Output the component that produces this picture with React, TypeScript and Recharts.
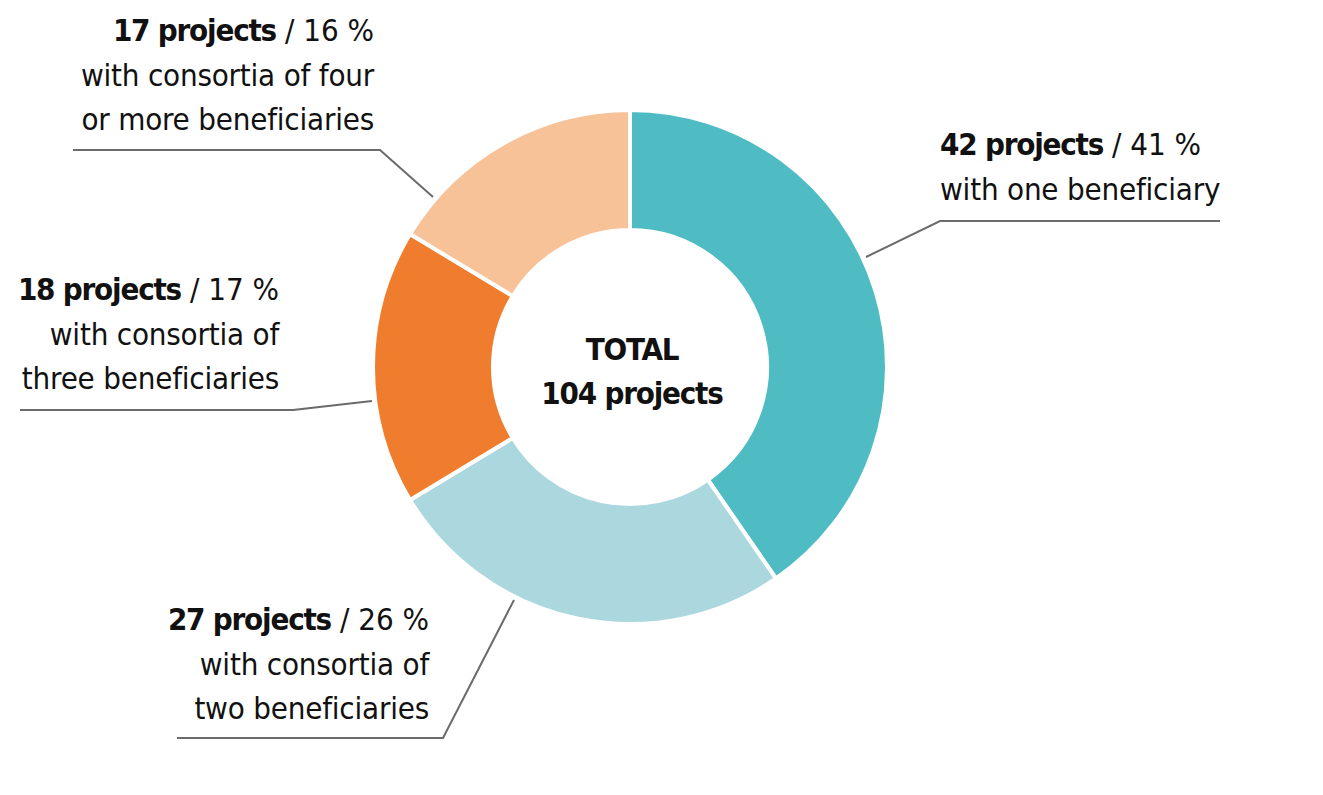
import { PieChart, Pie, Cell, Customized } from 'recharts'

const categories = ['with one beneficiary', 'with consortia of two beneficiaries', 'with consortia of three beneficiaries', 'with consortia of four or more beneficiaries']
const projects = [42, 27, 18, 17]
const shares = [41, 26, 17, 16]
const colors = ['#4fbcc4', '#abd7de', '#f07d2d', '#f8c298']
// label text split in lines, as in the original layout
const labelLines = [
  ['with one beneficiary'],
  ['with consortia of', 'two beneficiaries'],
  ['with consortia of', 'three beneficiaries'],
  ['with consortia of four', 'or more beneficiaries'],
]
const totalLabel = ['TOTAL', '104 projects']

const FONT = "'Liberation Sans Narrow', 'DejaVu Sans Condensed', 'Roboto Condensed', sans-serif"

// leader-line geometry relative to the pie centre: start, elbow, end, text anchor
const leaders = [
  { p: [[236, -110], [310, -146], [590, -146]], tx: 310, ty: -212, anchor: 'start' },
  { p: [[-116, 233], [-187, 371], [-453, 371]], tx: -201, ty: 263, anchor: 'end' },
  { p: [[-258, 34], [-337, 43], [-610, 43]], tx: -351, ty: -67, anchor: 'end' },
  { p: [[-197, -170], [-250, -217], [-557, -217]], tx: -256, ty: -326, anchor: 'end' },
]

const data = categories.map((c, i) => ({ name: c, value: projects[i], share: shares[i] }))

function renderLabel(props: any) {
  const { cx, cy, index } = props
  const l = leaders[index]
  const pts = l.p.map(([x, y]) => `${cx + x},${cy + y}`).join(' ')
  const lines = labelLines[index]
  return (
    <g key={`lbl-${index}`}>
      <polyline points={pts} fill="none" stroke="#6b6b6b" strokeWidth={2} />
      <text x={cx + l.tx} y={cy + l.ty} textAnchor={l.anchor} fontFamily={FONT} fontSize={31} fill="#111">
        <tspan fontWeight="bold" letterSpacing={-1.2}>{projects[index]} projects</tspan>
        <tspan> / {shares[index]} %</tspan>
        {lines.map((t, k) => (
          <tspan key={k} x={cx + l.tx} dy={44.5} letterSpacing={-0.2}>{t}</tspan>
        ))}
      </text>
    </g>
  )
}

export default function App() {
  return (
    <div>
      <style>{`body{margin:0}`}</style>
      <PieChart width={1323} height={795} margin={{ top: 0, right: 0, bottom: 0, left: 0 }}>
        <Pie
          data={data}
          dataKey="value"
          cx={630}
          cy={367}
          innerRadius={137}
          outerRadius={257}
          startAngle={90}
          endAngle={-270}
          stroke="#fff"
          strokeWidth={4}
          label={renderLabel}
          labelLine={false}
          isAnimationActive={false}
        >
          {data.map((d, i) => <Cell key={d.name} fill={colors[i]} />)}
        </Pie>
        <Customized component={() => (
          <text x={632} y={360} textAnchor="middle" fontFamily={FONT} fontSize={31} fontWeight="bold" fill="#111" letterSpacing={-1.2}>
            <tspan>{totalLabel[0]}</tspan>
            <tspan x={632} dy={44}>{totalLabel[1]}</tspan>
          </text>
        )} />
      </PieChart>
    </div>
  )
}
